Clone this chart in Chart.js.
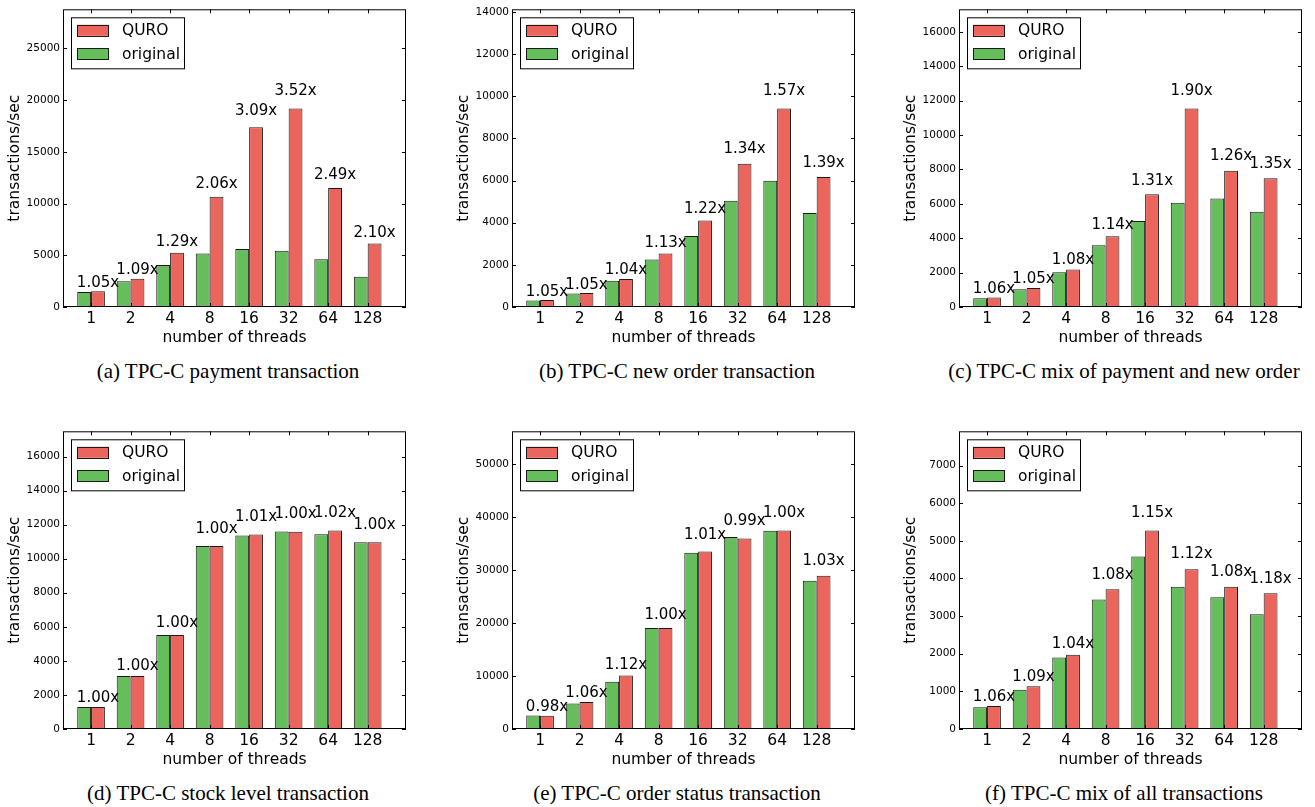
<!DOCTYPE html>
<html>
<head>
<meta charset="utf-8">
<script src="https://cdn.jsdelivr.net/npm/chart.js@4.4.1/dist/chart.umd.min.js"></script>
<style>
    body { margin: 0; background: #fff; width: 1315px; height: 807px; position: relative; overflow: hidden; }
    canvas { position: absolute; }
    .caption {
        position: absolute; width: 440px; text-align: center; white-space: nowrap;
        font-family: "Liberation Serif", "Times New Roman", serif; font-size: 21px; line-height: 24px; color: #000;
    }
</style>
</head>
<body>
<script>
// CATEGORIAS (NUMERO DE THREADS)
const threads = ["1", "2", "4", "8", "16", "32", "64", "128"];

// (a) PAYMENT
const paymentOriginal = [1450, 2500, 4060, 5170, 5620, 5450, 4620, 2920];
const paymentQuro = [1520, 2730, 5240, 10650, 17380, 19190, 11500, 6130];
const paymentRatio = ["1.05x", "1.09x", "1.29x", "2.06x", "3.09x", "3.52x", "2.49x", "2.10x"];
const paymentTicks = [0, 5000, 10000, 15000, 20000, 25000];

// (b) NEW ORDER
const newOrderOriginal = [310, 640, 1250, 2260, 3370, 5040, 5990, 4460];
const newOrderQuro = [327, 670, 1325, 2540, 4100, 6800, 9420, 6175];
const newOrderRatio = ["1.05x", "1.05x", "1.04x", "1.13x", "1.22x", "1.34x", "1.57x", "1.39x"];
const newOrderTicks = [0, 2000, 4000, 6000, 8000, 10000, 12000, 14000];

// (c) MIX PAYMENT + NEW ORDER
const mixOriginal = [516, 1032, 2026, 3594, 5009, 6060, 6309, 5544];
const mixQuro = [554, 1109, 2179, 4110, 6557, 11547, 7934, 7494];
const mixRatio = ["1.06x", "1.05x", "1.08x", "1.14x", "1.31x", "1.90x", "1.26x", "1.35x"];
const mixTicks = [0, 2000, 4000, 6000, 8000, 10000, 12000, 14000, 16000];

// (d) STOCK LEVEL
const stockOriginal = [1288, 3115, 5519, 10750, 11365, 11596, 11442, 10962];
const stockQuro = [1288, 3115, 5519, 10750, 11423, 11577, 11654, 10962];
const stockRatio = ["1.00x", "1.00x", "1.00x", "1.00x", "1.01x", "1.00x", "1.02x", "1.00x"];
const stockTicks = [0, 2000, 4000, 6000, 8000, 10000, 12000, 14000, 16000];

// (e) ORDER STATUS
const statusOriginal = [2560, 4827, 8911, 19059, 33230, 36200, 37376, 27970];
const statusQuro = [2510, 5074, 10087, 19059, 33478, 35953, 37438, 28898];
const statusRatio = ["0.98x", "1.06x", "1.12x", "1.00x", "1.01x", "0.99x", "1.00x", "1.03x"];
const statusTicks = [0, 10000, 20000, 30000, 40000, 50000];

// (f) MIX OF ALL
const allOriginal = [575, 1046, 1900, 3443, 4585, 3783, 3504, 3051];
const allQuro = [610, 1133, 1970, 3714, 5274, 4245, 3783, 3609];
const allRatio = ["1.06x", "1.09x", "1.04x", "1.08x", "1.15x", "1.12x", "1.08x", "1.18x"];
const allTicks = [0, 1000, 2000, 3000, 4000, 5000, 6000, 7000];

const captions = [
    "(a) TPC-C payment transaction",
    "(b) TPC-C new order transaction",
    "(c) TPC-C mix of payment and new order",
    "(d) TPC-C stock level transaction",
    "(e) TPC-C order status transaction",
    "(f) TPC-C mix of all transactions",
];

const RED = "rgb(236, 101, 92)";
const GREEN = "rgb(101, 190, 91)";
const EDGE = "#1a1a1a";
const FONT = "'DejaVu Sans', sans-serif";

const COL_LEFT = [63, 512, 959];
const ROW_TOP = [4, 426];
const CAPTION_Y = [371, 793];

Chart.defaults.font.family = FONT;
Chart.defaults.color = "#000";

// MARCO, TICKS HACIA DENTRO, ETIQUETAS DE RATIO Y LEYENDA
const framePlugin = {
    id: "frame",
    afterDatasetsDraw(chart) {
        const ctx = chart.ctx;
        const a = chart.chartArea;
        const xs = chart.scales.x;
        const ys = chart.scales.y;
        const ratios = chart.options.plugins.frame.ratios;

        ctx.save();
        ctx.fillStyle = "#000";
        ctx.font = "15px " + FONT;
        ctx.textAlign = "center";
        ctx.textBaseline = "bottom";
        const quroMeta = chart.getDatasetMeta(1);
        quroMeta.data.forEach((bar, i) => {
            const v = chart.data.datasets[1].data[i].y;
            ctx.fillText(ratios[i], bar.x, ys.getPixelForValue(v * 1.05));
        });

        ctx.strokeStyle = "#000";
        ctx.lineWidth = 1;
        ctx.strokeRect(a.left + 0.5, a.top + 0.5, a.right - a.left - 1, a.bottom - a.top - 1);

        ctx.beginPath();
        xs.ticks.forEach((t) => {
            const x = Math.round(xs.getPixelForValue(t.value)) + 0.5;
            ctx.moveTo(x, a.bottom);
            ctx.lineTo(x, a.bottom - 4);
            ctx.moveTo(x, a.top);
            ctx.lineTo(x, a.top + 4);
        });
        ys.ticks.forEach((t) => {
            const y = Math.round(ys.getPixelForValue(t.value)) + 0.5;
            ctx.moveTo(a.left, y);
            ctx.lineTo(a.left + 4, y);
            ctx.moveTo(a.right, y);
            ctx.lineTo(a.right - 4, y);
        });
        ctx.stroke();

        // LEYENDA (QURO ARRIBA, original ABAJO)
        const bx = a.left + 8;
        const by = a.top + 8;
        ctx.fillStyle = "#fff";
        ctx.fillRect(bx, by, 113, 51);
        ctx.strokeRect(bx + 0.5, by + 0.5, 113, 51);
        const items = chart.data.datasets.slice().reverse();
        ctx.font = "15.5px " + FONT;
        ctx.textAlign = "left";
        ctx.textBaseline = "middle";
        items.forEach((ds, j) => {
            const cy = a.top + 21 + j * 23.3;
            ctx.fillStyle = ds.backgroundColor;
            ctx.fillRect(a.left + 14, cy - 5.5, 32, 11);
            ctx.strokeStyle = EDGE;
            ctx.strokeRect(a.left + 14.5, Math.round(cy - 5.5) + 0.5, 31, 11);
            ctx.fillStyle = "#000";
            ctx.fillText(ds.label, a.left + 59, cy + 1);
        });
        ctx.restore();
    },
};

function makeChart(index, original, quro, ratios, yTicks) {
    const col = index % 3;
    const row = Math.floor(index / 3);

    const canvas = document.createElement("canvas");
    canvas.width = 417;
    canvas.height = 351;
    canvas.style.left = (COL_LEFT[col] - 62) + "px";
    canvas.style.top = (ROW_TOP[row] - 4) + "px";
    document.body.appendChild(canvas);

    const cap = document.createElement("div");
    cap.setAttribute("class", "caption");
    cap.innerText = captions[index];
    cap.style.left = (COL_LEFT[col] + 165 - 220) + "px";
    cap.style.top = (CAPTION_Y[row] - 12) + "px";
    document.body.appendChild(cap);

    const yMax = Math.max(...quro) * 1.5;

    new Chart(canvas.getContext("2d"), {
        type: "bar",
        data: {
            datasets: [
                {
                    label: "original",
                    data: original.map((v, i) => ({ x: i, y: v })),
                    backgroundColor: GREEN,
                    borderColor: EDGE,
                    borderWidth: 1,
                    borderSkipped: false,
                },
                {
                    label: "QURO",
                    data: quro.map((v, i) => ({ x: i, y: v })),
                    backgroundColor: RED,
                    borderColor: EDGE,
                    borderWidth: 1,
                    borderSkipped: false,
                },
            ],
        },
        options: {
            responsive: false,
            animation: false,
            devicePixelRatio: 1,
            categoryPercentage: 0.7,
            barPercentage: 1,
            layout: { padding: { top: 4, right: 12, left: 0, bottom: 0 } },
            plugins: {
                legend: { display: false },
                tooltip: { enabled: false },
                frame: { ratios: ratios },
            },
            scales: {
                x: {
                    type: "linear",
                    offset: false,
                    min: -0.71,
                    max: 7.97,
                    grid: { display: false, drawTicks: false, offset: false },
                    border: { display: false },
                    afterBuildTicks: (s) => { s.ticks = threads.map((t, i) => ({ value: i })); },
                    afterFit: (s) => { s.height = 44; },
                    ticks: {
                        autoSkip: false,
                        maxRotation: 0,
                        padding: 3,
                        font: { size: 15.5 },
                        callback: (value) => threads[value],
                    },
                    title: {
                        display: true,
                        text: "number of threads",
                        font: { size: 15.5 },
                        padding: { top: 0, bottom: 4 },
                    },
                },
                y: {
                    min: 0,
                    max: yMax,
                    grid: { display: false, drawTicks: false },
                    border: { display: false },
                    afterBuildTicks: (s) => { s.ticks = yTicks.map((v) => ({ value: v })); },
                    afterFit: (s) => { s.width = 62; },
                    ticks: {
                        padding: 3,
                        font: { size: 10.5 },
                        callback: (value) => String(value),
                    },
                    title: {
                        display: true,
                        text: "transactions/sec",
                        font: { size: 15.5 },
                        padding: { top: 4.7, bottom: 0 },
                    },
                },
            },
        },
        plugins: [framePlugin],
    });
}

makeChart(0, paymentOriginal, paymentQuro, paymentRatio, paymentTicks);
makeChart(1, newOrderOriginal, newOrderQuro, newOrderRatio, newOrderTicks);
makeChart(2, mixOriginal, mixQuro, mixRatio, mixTicks);
makeChart(3, stockOriginal, stockQuro, stockRatio, stockTicks);
makeChart(4, statusOriginal, statusQuro, statusRatio, statusTicks);
makeChart(5, allOriginal, allQuro, allRatio, allTicks);
</script>
</body>
</html>
